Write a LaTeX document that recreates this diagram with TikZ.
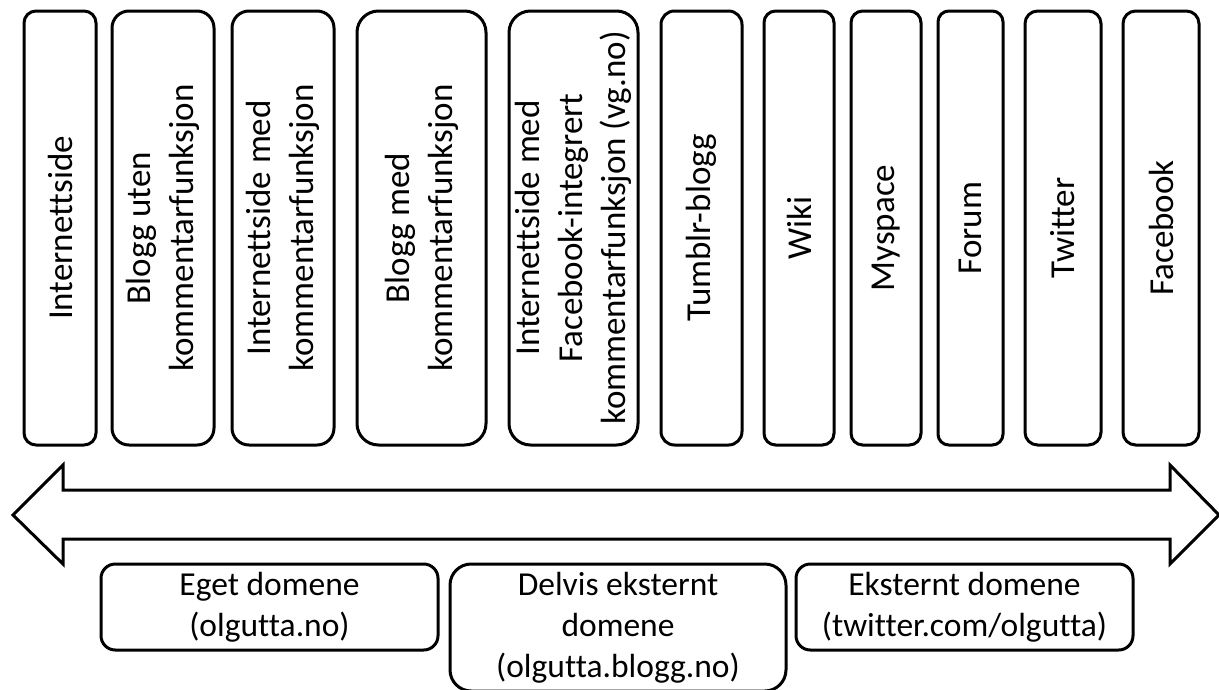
\documentclass[tikz,border=0pt]{standalone}
\usepackage{fontspec}
\setmainfont{Carlito}[Ligatures=NoCommon]
\usepackage{tikz}

\begin{document}
\begin{tikzpicture}[x=1pt, y=-1pt, line width=3pt]

		\useasboundingbox (0,0) rectangle (1219,689);

		\tikzset{
			case/.style={draw, rotate=90, align=center, inner sep=0pt, outer sep=0pt,
				minimum width=434pt, font=\fontsize{35}{43}\selectfont},
			domaine/.style={draw, align=center, inner sep=0pt, outer sep=0pt,
				font=\fontsize{33.5}{41}\selectfont}
		}

		\newcommand{\mkcase}[4]{
			%une case verticale
			\pgfmathsetmacro{\largeur}{#3-#2}
			\pgfmathsetmacro{\rayon}{0.1667*\largeur}
			\node[case, minimum height=\largeur pt, rounded corners=\rayon pt] (#1) at ({(#2+#3)/2},228) {#4};
		}

		\newcommand{\mkdomaine}[5]{
			%une case de domaine
			\pgfmathsetmacro{\largeur}{#3-#2}
			\pgfmathsetmacro{\hauteur}{#4-564}
			\pgfmathsetmacro{\rayon}{0.1667*\hauteur}
			\node[domaine, minimum width=\largeur pt, minimum height=\hauteur pt, rounded corners=\rayon pt] (#1) at ({(#2+#3)/2},{(564+#4)/2}) {#5};
		}

		%les cases du haut
		\mkcase{internettside}{24}{96}{Internettside}
		\mkcase{bloggUten}{112}{214}{Blogg uten\\kommentarfunksjon}
		\mkcase{internettsideMed}{232}{334}{Internettside med\\kommentarfunksjon}
		\mkcase{bloggMed}{357}{486}{Blogg med\\kommentarfunksjon}
		\mkcase{facebookIntegrert}{509}{638}{Internettside med\\Facebook-integrert\\kommentarfunksjon (vg.no)}
		\mkcase{tumblr}{661}{742}{Tumblr-blogg}
		\mkcase{wiki}{764}{834}{Wiki}
		\mkcase{myspace}{851}{921}{Myspace}
		\mkcase{forum}{938}{1003}{Forum}
		\mkcase{twitter}{1025}{1101}{Twitter}
		\mkcase{facebook}{1123}{1199}{Facebook}

		%la double fleche
		\draw (13,515) -- (63,465) -- (63,490) -- (1170,490) -- (1170,465) -- (1219,515)
			-- (1170,564) -- (1170,539) -- (63,539) -- (63,564) -- cycle;

		%les domaines
		\mkdomaine{eget}{101}{438}{650}{Eget domene\\(olgutta.no)}
		\mkdomaine{delvis}{450}{786}{691}{Delvis eksternt\\domene\\(olgutta.blogg.no)}
		\mkdomaine{eksternt}{796}{1133}{650}{Eksternt domene\\(twitter.com/olgutta)}

\end{tikzpicture}
\end{document}
